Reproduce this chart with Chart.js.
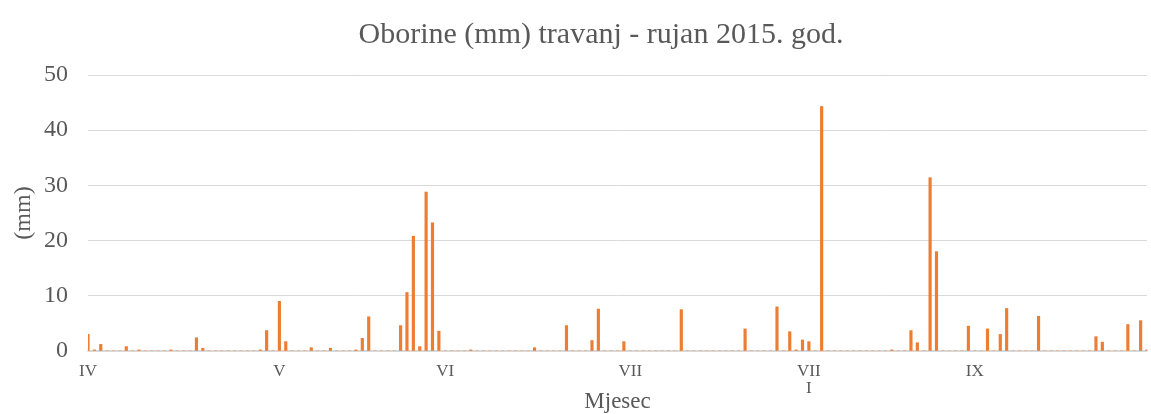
<!DOCTYPE html>
<html>
<head>
<meta charset="utf-8">
<script src="https://cdn.jsdelivr.net/npm/chart.js@4.4.1/dist/chart.umd.min.js"></script>
<style>
  html, body { margin: 0; padding: 0; background: #fff; }
  #wrap { width: 1151px; height: 414px; }
</style>
</head>
<body>
<div id="wrap"><canvas id="rainChart"></canvas></div>
<script>
// dnevne oborine (mm), 167 dana
const rainMm = [
  3.0, 0.2, 1.2, 0, 0, 0, 0.8, 0, 0.2, 0,
  0, 0, 0, 0.2, 0, 0, 0, 2.4, 0.5, 0,
  0, 0, 0, 0, 0, 0, 0, 0.2, 3.7, 0,
  9.0, 1.7, 0, 0, 0, 0.6, 0, 0, 0.5, 0,
  0, 0, 0.2, 2.3, 6.2, 0, 0, 0, 0, 4.6,
  10.6, 20.8, 0.8, 28.8, 23.2, 3.6, 0, 0, 0, 0,
  0.2, 0, 0, 0, 0, 0, 0, 0, 0, 0,
  0.6, 0, 0, 0, 0, 4.6, 0, 0, 0, 1.9,
  7.6, 0, 0, 0, 1.7, 0, 0, 0, 0, 0,
  0, 0, 0, 7.5, 0, 0, 0, 0, 0, 0,
  0, 0, 0, 4.0, 0, 0, 0, 0, 8.0, 0,
  3.5, 0.2, 2.0, 1.7, 0, 44.3, 0, 0, 0, 0,
  0, 0, 0, 0, 0, 0, 0.2, 0, 0, 3.7,
  1.5, 0, 31.4, 18.0, 0, 0, 0, 0, 4.5, 0,
  0, 4.0, 0, 3.0, 7.7, 0, 0, 0, 0, 6.3,
  0, 0, 0, 0, 0, 0, 0, 0, 2.6, 1.6,
  0, 0, 0, 4.8, 0, 5.5, 0.2
];

// oznake mjeseci i redni broj dana na kojem stoje
const monthNames = ['IV', 'V', 'VI', 'VII', ['VII', 'I'], 'IX'];
const monthIndex = [0, 30, 56, 85, 113, 139];

const yTicks = [0, 10, 20, 30, 40, 50];

const chartTitle = 'Oborine (mm) travanj - rujan 2015. god.';

const labels = rainMm.map(() => '');
monthIndex.forEach((d, i) => { labels[d] = monthNames[i]; });

const serif = "'Liberation Serif', 'Times New Roman', serif";
const grey = '#595959';

// naslov malo lijevo od sredine, kao u izvorniku
const titlePlugin = {
  id: 'rainTitle',
  afterDraw(chart) {
    const ctx = chart.ctx;
    ctx.save();
    ctx.font = '30px ' + serif;
    ctx.fillStyle = grey;
    ctx.textAlign = 'center';
    ctx.textBaseline = 'middle';
    ctx.fillText(chartTitle, 601, 35);
    ctx.restore();
  }
};

new Chart(document.getElementById('rainChart'), {
  type: 'bar',
  data: {
    labels,
    datasets: [{
      label: 'Oborine (mm)',
      data: rainMm,
      backgroundColor: '#ED7D31',
      borderWidth: 0,
      barThickness: 2.5
    }]
  },
  plugins: [titlePlugin],
  options: {
    responsive: true,
    maintainAspectRatio: false,
    animation: false,
    layout: { padding: { left: 0, right: 4, top: 75, bottom: 0 } },
    plugins: {
      legend: { display: false },
      tooltip: { enabled: false },
      title: { display: false }
    },
    scales: {
      x: {
        offset: false,
        grid: { display: false, drawTicks: false },
        border: { display: true, color: '#d9d9d9', width: 1.5 },
        ticks: {
          autoSkip: false, maxRotation: 0, minRotation: 0,
          color: grey, padding: 12,
          font: { family: serif, size: 17, lineHeight: 1.0 }
        },
        title: {
          display: true, text: 'Mjesec', color: grey,
          font: { family: serif, size: 23 },
          padding: { top: 0, bottom: -2 }
        },
        afterFit: s => { s.height = 63; s.paddingLeft = 0; s.paddingRight = 0; }
      },
      y: {
        min: 0, max: 50,
        afterBuildTicks: s => { s.ticks = yTicks.map(v => ({ value: v })); },
        grid: { color: '#d9d9d9', lineWidth: 1, drawTicks: false },
        border: { display: false },
        ticks: {
          color: grey, padding: 20,
          font: { family: serif, size: 24 }
        },
        title: {
          display: true, text: '(mm)', color: grey,
          font: { family: serif, size: 24 },
          padding: { top: 9, bottom: 0 }
        },
        afterFit: s => { s.width = 88; }
      }
    }
  }
});
</script>
</body>
</html>
